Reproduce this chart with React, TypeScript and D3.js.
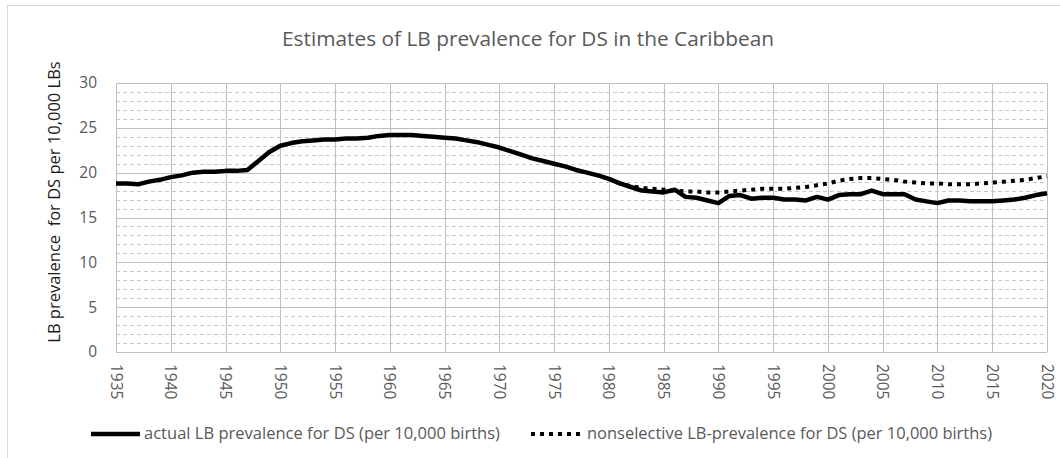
import * as React from 'react';
import * as d3 from 'd3';

const TITLE = 'Estimates of LB prevalence for DS in the Caribbean';
const Y_LABEL = 'LB prevalence\u00a0 for DS per 10,000 LBs';
const SERIES_NAMES = [
    'actual LB prevalence for DS (per 10,000 births)',
    'nonselective LB-prevalence for DS (per 10,000 births)'
];

const FIRST_YEAR = 1935;
const X_TICKS = [1935, 1940, 1945, 1950, 1955, 1960, 1965, 1970, 1975, 1980, 1985, 1990, 1995, 2000, 2005, 2010, 2015, 2020];
const Y_TICKS = [0, 5, 10, 15, 20, 25, 30];

// actual live birth prevalence, one value per year from 1935
const ACTUAL = [
    18.8, 18.8, 18.7, 19.0, 19.2, 19.5, 19.7, 20.0, 20.1, 20.1,
    20.2, 20.2, 20.3, 21.3, 22.3, 23.0, 23.3, 23.5, 23.6, 23.7,
    23.7, 23.8, 23.8, 23.9, 24.1, 24.2, 24.2, 24.2, 24.1, 24.0,
    23.9, 23.8, 23.6, 23.4, 23.1, 22.8, 22.4, 22.0, 21.6, 21.3,
    21.0, 20.7, 20.3, 20.0, 19.7, 19.3, 18.8, 18.4, 18.0, 17.9,
    17.8, 18.1, 17.3, 17.2, 16.9, 16.6, 17.4, 17.5, 17.1, 17.2,
    17.2, 17.0, 17.0, 16.9, 17.3, 17.0, 17.5, 17.6, 17.6, 18.0,
    17.6, 17.6, 17.6, 17.0, 16.8, 16.6, 16.9, 16.9, 16.8, 16.8,
    16.8, 16.9, 17.0, 17.2, 17.5, 17.7
];

// nonselective prevalence, one value per year from 1980
const NONSELECTIVE_FROM = 1980;
const NONSELECTIVE = [
    19.3, 18.8, 18.5, 18.3, 18.2, 18.1, 18.0, 17.9, 17.9, 17.8,
    17.8, 17.9, 18.0, 18.1, 18.2, 18.2, 18.2, 18.3, 18.4, 18.6,
    18.8, 19.1, 19.3, 19.4, 19.4, 19.3, 19.2, 19.0, 18.9, 18.8,
    18.8, 18.7, 18.7, 18.7, 18.8, 18.9, 19.0, 19.1, 19.2, 19.4,
    19.6
];

const WIDTH = 1060;
const HEIGHT = 458;
const MARGINS = { top: 83, left: 116, right: 1047, bottom: 352 };
const FONT = '"Open Sans", "Noto Sans", sans-serif';
const TEXT_GREY = '#595959';

export default function App() {
    // CREATE SCALES
    const xScale = d3.scaleLinear()
        .domain([X_TICKS[0], X_TICKS[X_TICKS.length - 1]])
        .range([MARGINS.left, MARGINS.right]);
    const yScale = d3.scaleLinear()
        .domain([Y_TICKS[0], Y_TICKS[Y_TICKS.length - 1]])
        .range([MARGINS.bottom, MARGINS.top]);

    const minorTicks = yScale.ticks(30).filter(v => v % 5 !== 0);

    const line = d3.line<[number, number]>()
        .x(d => xScale(d[0]))
        .y(d => yScale(d[1]));

    const actualPts: [number, number][] = ACTUAL.map((v, i) => [FIRST_YEAR + i, v]);
    const nonselPts: [number, number][] = NONSELECTIVE.map((v, i) => [NONSELECTIVE_FROM + i, v]);

    const legendY = 434;

    return (
        <svg width={WIDTH} height={HEIGHT}
            style={{ position: 'absolute', left: 0, top: 0, background: '#fff' }}
            fontFamily={FONT}>
            <rect x={0} y={0} width={WIDTH} height={HEIGHT} fill="#fff" />
            <rect x={7.5} y={5.5} width={WIDTH + 10} height={HEIGHT + 10} fill="none" stroke="#d9d9d9" />

            <text x={528} y={46} textAnchor="middle" fontSize={20} fill={TEXT_GREY}
                textLength={492} lengthAdjust="spacingAndGlyphs">{TITLE}</text>

            {/* minor horizontal grid */}
            {minorTicks.map(v => (
                <line key={'m' + v} x1={MARGINS.left} x2={MARGINS.right}
                    y1={Math.round(yScale(v)) + 0.5} y2={Math.round(yScale(v)) + 0.5}
                    stroke="#c8c8c8" strokeDasharray="4 3" />
            ))}

            {/* major grid */}
            {Y_TICKS.map(v => (
                <line key={'y' + v} x1={MARGINS.left} x2={MARGINS.right}
                    y1={Math.round(yScale(v)) + 0.5} y2={Math.round(yScale(v)) + 0.5}
                    stroke="#bfbfbf" />
            ))}
            {X_TICKS.map(v => (
                <line key={'x' + v} y1={MARGINS.top} y2={MARGINS.bottom}
                    x1={Math.round(xScale(v)) + 0.5} x2={Math.round(xScale(v)) + 0.5}
                    stroke="#bfbfbf" />
            ))}

            {/* y tick labels */}
            {Y_TICKS.map(v => (
                <text key={'yl' + v} x={97} y={yScale(v)} dy="0.35em" textAnchor="end"
                    fontSize={15.5} fill={TEXT_GREY}>{v}</text>
            ))}

            {/* x tick labels, rotated */}
            {X_TICKS.map(v => (
                <text key={'xl' + v} transform={'translate(' + [xScale(v), 364] + ') rotate(90)'}
                    dy="0.35em" textAnchor="start" fontSize={15.5} fill={TEXT_GREY}>{v}</text>
            ))}

            <text transform={'translate(' + [54, 202] + ') rotate(-90)'} textAnchor="middle"
                dy="0.35em" fontSize={16.5} fill="#1a1a1a">{Y_LABEL}</text>

            {/* series */}
            <path d={line(nonselPts) || ''} fill="none" stroke="#000" strokeWidth={4}
                strokeDasharray="4 5" />
            <path d={line(actualPts) || ''} fill="none" stroke="#000" strokeWidth={4.5}
                strokeLinejoin="round" />

            {/* legend */}
            <line x1={91} x2={140} y1={legendY} y2={legendY} stroke="#000" strokeWidth={4.5} />
            <text x={144} y={legendY} dy="0.35em" fontSize={15.5} fill={TEXT_GREY}
                textLength={356} lengthAdjust="spacingAndGlyphs">{SERIES_NAMES[0]}</text>
            <line x1={531} x2={583} y1={legendY} y2={legendY} stroke="#000" strokeWidth={4}
                strokeDasharray="4 5" />
            <text x={587} y={legendY} dy="0.35em" fontSize={15.5} fill={TEXT_GREY}
                textLength={405} lengthAdjust="spacingAndGlyphs">{SERIES_NAMES[1]}</text>
        </svg>
    );
}
